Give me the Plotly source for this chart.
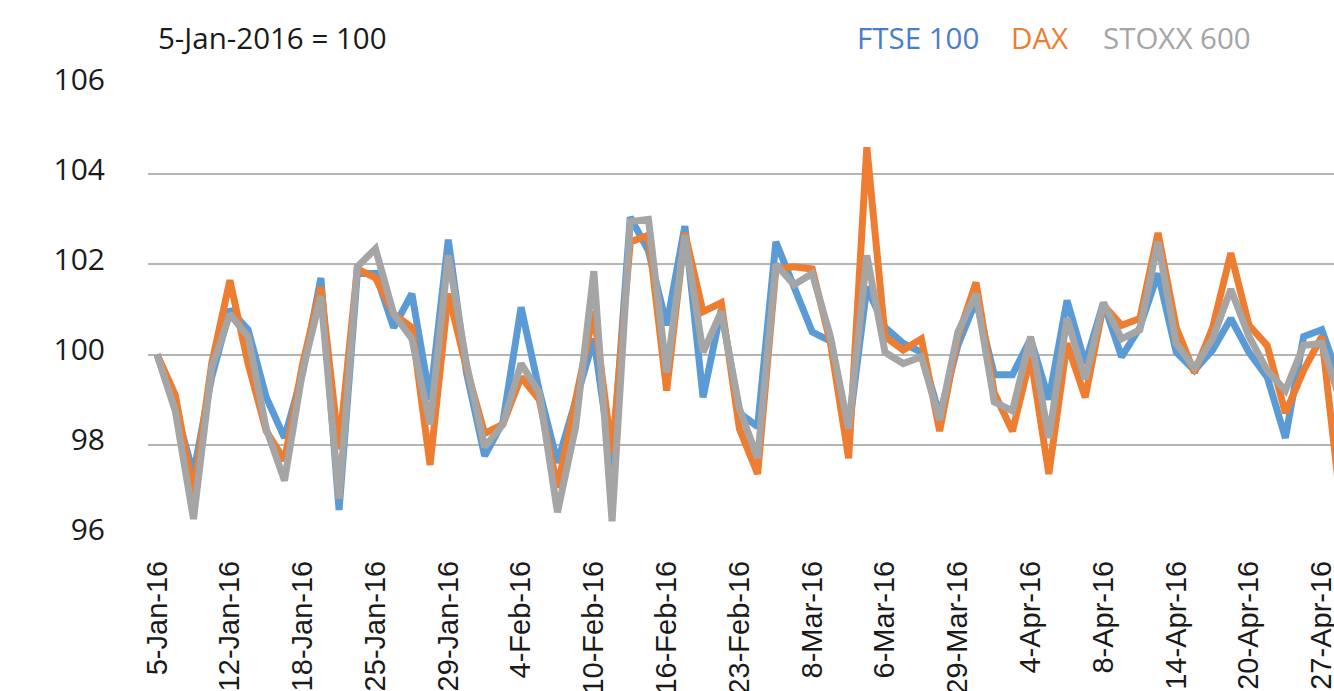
import plotly.graph_objects as go

# Category labels (every 4th is shown on the axis)
dates = [
    "5-Jan-16", "6-Jan-16", "7-Jan-16", "8-Jan-16",
    "12-Jan-16", "13-Jan-16", "14-Jan-16", "15-Jan-16",
    "18-Jan-16", "19-Jan-16", "20-Jan-16", "21-Jan-16",
    "25-Jan-16", "26-Jan-16", "27-Jan-16", "28-Jan-16",
    "29-Jan-16", "1-Feb-16", "2-Feb-16", "3-Feb-16",
    "4-Feb-16", "5-Feb-16", "8-Feb-16", "9-Feb-16",
    "10-Feb-16", "11-Feb-16", "12-Feb-16", "15-Feb-16",
    "16-Feb-16", "17-Feb-16", "18-Feb-16", "19-Feb-16",
    "23-Feb-16", "25-Feb-16", "29-Feb-16", "3-Mar-16",
    "8-Mar-16", "9-Mar-16", "10-Mar-16", "11-Mar-16",
    "6-Mar-16", "17-Mar-16", "22-Mar-16", "24-Mar-16",
    "29-Mar-16", "30-Mar-16", "31-Mar-16", "1-Apr-16",
    "4-Apr-16", "5-Apr-16", "6-Apr-16", "7-Apr-16",
    "8-Apr-16", "11-Apr-16", "12-Apr-16", "13-Apr-16",
    "14-Apr-16", "15-Apr-16", "18-Apr-16", "19-Apr-16",
    "20-Apr-16", "21-Apr-16", "22-Apr-16", "26-Apr-16",
    "27-Apr-16", "28-Apr-16",
]

ftse = [
    100, 98.8, 97.35, 99.5, 101.0, 100.55, 99.05, 98.15, 99.6, 101.7,
    96.55, 101.8, 101.8, 100.6, 101.35, 99.0, 102.55, 99.6, 97.75, 98.5,
    101.05, 99.2, 97.6, 99.0, 100.35, 97.5, 103.05, 102.3, 100.65, 102.85,
    99.05, 101.0, 98.7, 98.4, 102.5, 101.5, 100.5, 100.3, 98.3, 101.5,
    100.6, 100.25, 100.05, 98.65, 100.2, 101.2, 99.55, 99.55, 100.35, 99.0,
    101.2, 99.8, 101.15, 99.95, 100.6, 101.8, 100.05, 99.65, 100.1, 100.8,
    100.05, 99.5, 98.15, 100.4, 100.55, 99.4,
]
dax = [
    100, 99.1, 96.9, 99.8, 101.65, 99.8, 98.3, 97.65, 99.8, 101.5,
    97.9, 101.9, 101.7, 100.9, 100.6, 97.55, 101.35, 99.7, 98.25, 98.45,
    99.5, 99.0, 97.05, 99.05, 100.95, 97.8, 102.5, 102.65, 99.2, 102.7,
    100.95, 101.15, 98.35, 97.35, 101.9, 101.95, 101.9, 100.25, 97.7, 104.6,
    100.4, 100.1, 100.35, 98.3, 100.4, 101.6, 99.15, 98.3, 99.95, 97.35,
    100.25, 99.05, 101.1, 100.65, 100.8, 102.7, 100.6, 99.6, 100.6, 102.25,
    100.65, 100.2, 98.7, 99.65, 100.4, 96.8,
]
stoxx = [
    100, 98.75, 96.35, 99.7, 100.9, 100.4, 98.35, 97.2, 99.65, 101.3,
    96.8, 101.95, 102.35, 100.9, 100.35, 98.45, 102.2, 99.8, 97.95, 98.45,
    99.8, 99.15, 96.5, 98.4, 101.85, 96.3, 102.95, 103.0, 99.6, 102.65,
    100.05, 100.95, 98.8, 97.7, 102.0, 101.55, 101.8, 100.4, 98.35, 102.2,
    100.05, 99.8, 99.95, 98.55, 100.5, 101.35, 98.95, 98.75, 100.4, 98.15,
    100.8, 99.45, 101.15, 100.35, 100.55, 102.5, 100.25, 99.7, 100.35, 101.45,
    100.4, 99.65, 99.2, 100.2, 100.25, 99.0,
]

series_names = ["FTSE 100", "DAX", "STOXX 600"]
series_values = [ftse, dax, stoxx]
line_colors = ["#5B9BD5", "#ED7D31", "#A5A5A5"]
legend_colors = ["#4A7DC9", "#ED7D31", "#A5A5A5"]
y_ticks = [96, 98, 100, 102, 104, 106]
tick_every = 4

fig = go.Figure()
for name, vals, col in zip(series_names, series_values, line_colors):
    fig.add_trace(go.Scatter(
        x=dates, y=vals, mode="lines", name=name,
        line=dict(color=col, width=7), showlegend=False,
    ))

font_main = "Open Sans"
fig.update_layout(
    width=1334, height=691,
    margin=dict(l=148, r=0, t=84, b=156),
    paper_bgcolor="white", plot_bgcolor="white",
    font=dict(family=font_main, color="#1a1a1a"),
    xaxis=dict(
        type="category", range=[-0.5, 64.67],
        tickmode="array", tickvals=dates[::tick_every], ticktext=dates[::tick_every],
        tickangle=-90, showgrid=False, zeroline=False, showline=False,
        ticks="", ticklabelstandoff=19, automargin=False,
        tickfont=dict(family="Liberation Sans", size=29, color="#1a1a1a"),
    ),
    yaxis=dict(
        range=[95.995, 106.005], tickmode="array", tickvals=y_ticks,
        showgrid=True, gridcolor="#B5B5B5", gridwidth=1.5,
        zeroline=False, showline=False, ticks="", ticklabelstandoff=42,
        ticklabelshift=-5, automargin=False,
        tickfont=dict(family=font_main, size=30, color="#1a1a1a"),
    ),
)

fig.add_annotation(
    text="5-Jan-2016 = 100", xref="paper", yref="paper",
    x=(156 - 148) / 1186, y=1 + (84 - 38) / 451, xanchor="left", yanchor="middle",
    showarrow=False, font=dict(family=font_main, size=29.5, color="#1a1a1a"),
)
legend_x = [855, 1009, 1101]
for name, col, lx in zip(series_names, legend_colors, legend_x):
    fig.add_annotation(
        text=name, xref="paper", yref="paper",
        x=(lx - 148) / 1186, y=1 + (84 - 38) / 451, xanchor="left", yanchor="middle",
        showarrow=False, font=dict(family=font_main, size=29.5, color=col),
    )

fig.write_html("out.html", config={"displayModeBar": False},
               post_script="document.body.style.margin='0';document.body.style.overflow='hidden';")
